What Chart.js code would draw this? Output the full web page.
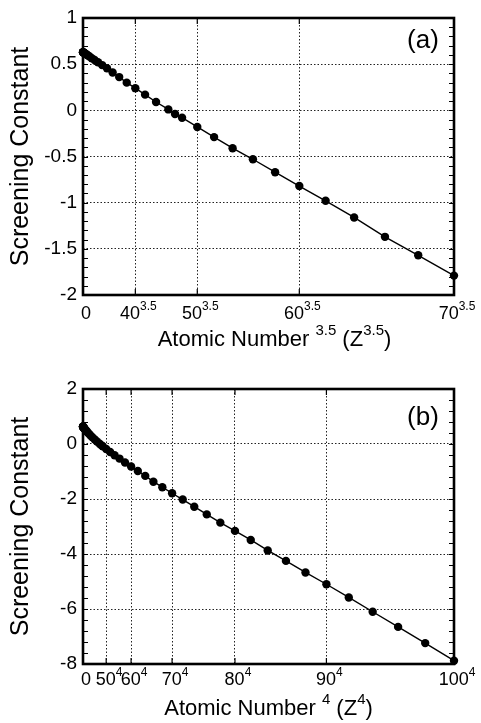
<!DOCTYPE html>
<html>
<head>
<meta charset="utf-8">
<script src="https://cdn.jsdelivr.net/npm/chart.js@4.4.0/dist/chart.umd.min.js"></script>
<style>
  html, body { margin: 0; padding: 0; background: #fff; }
  canvas { display: block; }
</style>
</head>
<body>
<canvas id="chartA" width="481" height="360"></canvas>
<canvas id="chartB" width="481" height="363"></canvas>
<script>
// atomic numbers of the plotted points and their screening constants
const atomicNumbers = [2, 4, 6, 8, 10, 12, 14, 16, 18, 20, 22, 24, 26, 28, 30, 32, 34, 36, 38, 40,
  42, 44, 46, 47, 48, 50, 52, 54, 56, 58, 60, 62, 64, 66, 68, 70,
  72, 74, 76, 78, 80, 82, 84, 86, 88, 90, 92, 94, 96, 98, 100];
const screening = [0.63, 0.63, 0.63, 0.63, 0.628, 0.625, 0.62, 0.615, 0.607, 0.597, 0.583, 0.565, 0.545, 0.52, 0.49, 0.455, 0.41, 0.36, 0.30, 0.24,
  0.17, 0.09, 0.01, -0.04, -0.08, -0.18, -0.29, -0.41, -0.53, -0.67, -0.82, -0.98, -1.16, -1.37, -1.57, -1.79,
  -2.02, -2.28, -2.56, -2.86, -3.16, -3.49, -3.87, -4.25, -4.67, -5.10, -5.58, -6.10, -6.65, -7.24, -7.88];

// panel (a): x = Z^3.5, panel (b): x = Z^4
const powerA = 3.5;
const zMaxA = 70;
const xTickBasesA = ['0', '40', '50', '60', '70'];
const powerB = 4;
const zMaxB = 100;
const xTickBasesB = ['0', '50', '60', '70', '80', '90', '100'];

const FONT = '"Liberation Sans", Arial, Helvetica, sans-serif';

function drawPieces(ctx, pieces, x, y, size, supSize, center) {
  let total = 0;
  pieces.forEach(p => {
    ctx.font = (p.sup ? supSize : size) + 'px ' + FONT;
    p.w = ctx.measureText(p.t).width;
    total += p.w;
  });
  let cx = center ? x - total / 2 : x;
  ctx.textAlign = 'left';
  ctx.textBaseline = 'alphabetic';
  pieces.forEach(p => {
    ctx.font = (p.sup ? supSize : size) + 'px ' + FONT;
    ctx.fillText(p.t, cx, p.sup ? y - size * 0.5 : y);
    cx += p.w;
  });
  return total;
}

const panelPlugin = {
  id: 'panel',
  afterDraw(chart, args, opts) {
    const ctx = chart.ctx;
    const a = chart.chartArea;
    const x = chart.scales.x, y = chart.scales.y;
    ctx.save();
    ctx.fillStyle = '#000';
    ctx.strokeStyle = '#000';

    // minor ticks on left and right edges
    ctx.lineWidth = 1.2;
    const n = Math.round((y.max - y.min) / opts.minorStep);
    for (let i = 1; i < n; i++) {
      const py = Math.round(y.getPixelForValue(y.min + i * opts.minorStep)) + 0.5;
      ctx.beginPath();
      ctx.moveTo(a.left, py); ctx.lineTo(a.left + 5, py);
      ctx.moveTo(a.right, py); ctx.lineTo(a.right - 5, py);
      ctx.stroke();
    }
    // ticks on top and bottom at the labelled values
    x.ticks.forEach(t => {
      const px = x.getPixelForValue(t.value);
      ctx.beginPath();
      ctx.moveTo(px, a.bottom); ctx.lineTo(px, a.bottom - 6);
      ctx.moveTo(px, a.top); ctx.lineTo(px, a.top + 6);
      ctx.stroke();
    });

    // frame
    ctx.lineWidth = 2.6;
    ctx.strokeRect(a.left, a.top, a.right - a.left, a.bottom - a.top);

    // x tick labels with superscript powers
    const size = 18, sup = 12;
    opts.tickBases.forEach(b => {
      const v = Number(b) ** opts.power;
      const px = x.getPixelForValue(v);
      const pieces = b === '0' ? [{ t: '0' }] : [{ t: b }, { t: opts.powerText, sup: true }];
      let cx = px + 3;
      let w = 0;
      pieces.forEach(p => { ctx.font = (p.sup ? sup : size) + 'px ' + FONT; w += ctx.measureText(p.t).width; });
      if (cx + w / 2 > chart.width + 2) cx = chart.width + 2 - w / 2;
      drawPieces(ctx, pieces, cx, a.bottom + opts.tickGap, size, sup, true);
    });

    // x axis title
    const pw = opts.powerText;
    drawPieces(ctx, [{ t: 'Atomic Number ' }, { t: pw, sup: true }, { t: ' (Z' }, { t: pw, sup: true }, { t: ')' }],
      (a.left + a.right) / 2 + opts.titleShift, a.bottom + opts.titleGap, 22, 15, true);

    // panel label
    ctx.font = '26px ' + FONT;
    ctx.textAlign = 'center';
    ctx.textBaseline = 'middle';
    ctx.fillText(opts.label, opts.labelX, opts.labelY);
    ctx.restore();
  }
};

function makeChart(id, zMax, power, yMin, yMax, yStep, padTop, xHeight, panelOpts) {
  const pts = [];
  atomicNumbers.forEach((z, i) => {
    if (z <= zMax) pts.push({ x: z ** power, y: screening[i] });
  });
  return new Chart(document.getElementById(id), {
    type: 'scatter',
    data: {
      datasets: [{
        data: pts,
        showLine: true,
        borderColor: '#000',
        borderWidth: 1.4,
        backgroundColor: '#000',
        pointRadius: 4.2,
        pointBorderWidth: 0,
        pointHoverRadius: 4.2,
        clip: false
      }]
    },
    options: {
      responsive: false,
      devicePixelRatio: 1,
      animation: false,
      events: [],
      layout: { padding: { top: padTop, right: 27, left: 0, bottom: 0 } },
      plugins: { legend: { display: false }, tooltip: { enabled: false }, panel: panelOpts },
      scales: {
        x: {
          type: 'linear',
          min: 0,
          max: zMax ** power,
          afterBuildTicks: s => { s.ticks = panelOpts.tickBases.map(b => ({ value: Number(b) ** power })); },
          afterFit: s => { s.height = xHeight; },
          ticks: { display: false },
          grid: { color: '#222', lineWidth: 1, drawTicks: false },
          border: { display: false, dash: [1.5, 2] }
        },
        y: {
          min: yMin,
          max: yMax,
          afterFit: s => { s.width = 83; },
          ticks: {
            stepSize: yStep,
            color: '#000',
            padding: 6,
            font: { family: FONT, size: 19 },
            callback: v => String(Number(v.toFixed(2)))
          },
          grid: { color: '#222', lineWidth: 1, drawTicks: false },
          border: { display: false, dash: [1.5, 2] },
          title: {
            display: true,
            text: 'Screening Constant',
            color: '#000',
            font: { family: FONT, size: 25 },
            padding: { top: 6, bottom: 0 }
          }
        }
      }
    },
    plugins: [panelPlugin]
  });
}

makeChart('chartA', zMaxA, powerA, -2, 1, 0.5, 18, 65, {
  label: '(a)', labelX: 423, labelY: 41, minorStep: 0.1,
  tickBases: xTickBasesA, power: powerA, powerText: '3.5',
  tickGap: 24, titleGap: 51, titleShift: 6
});
makeChart('chartB', zMaxB, powerB, -8, 2, 2, 29, 59, {
  label: '(b)', labelX: 423, labelY: 58, minorStep: 0.4,
  tickBases: xTickBasesB, power: powerB, powerText: '4',
  tickGap: 21, titleGap: 51, titleShift: 0
});
</script>
</body>
</html>
